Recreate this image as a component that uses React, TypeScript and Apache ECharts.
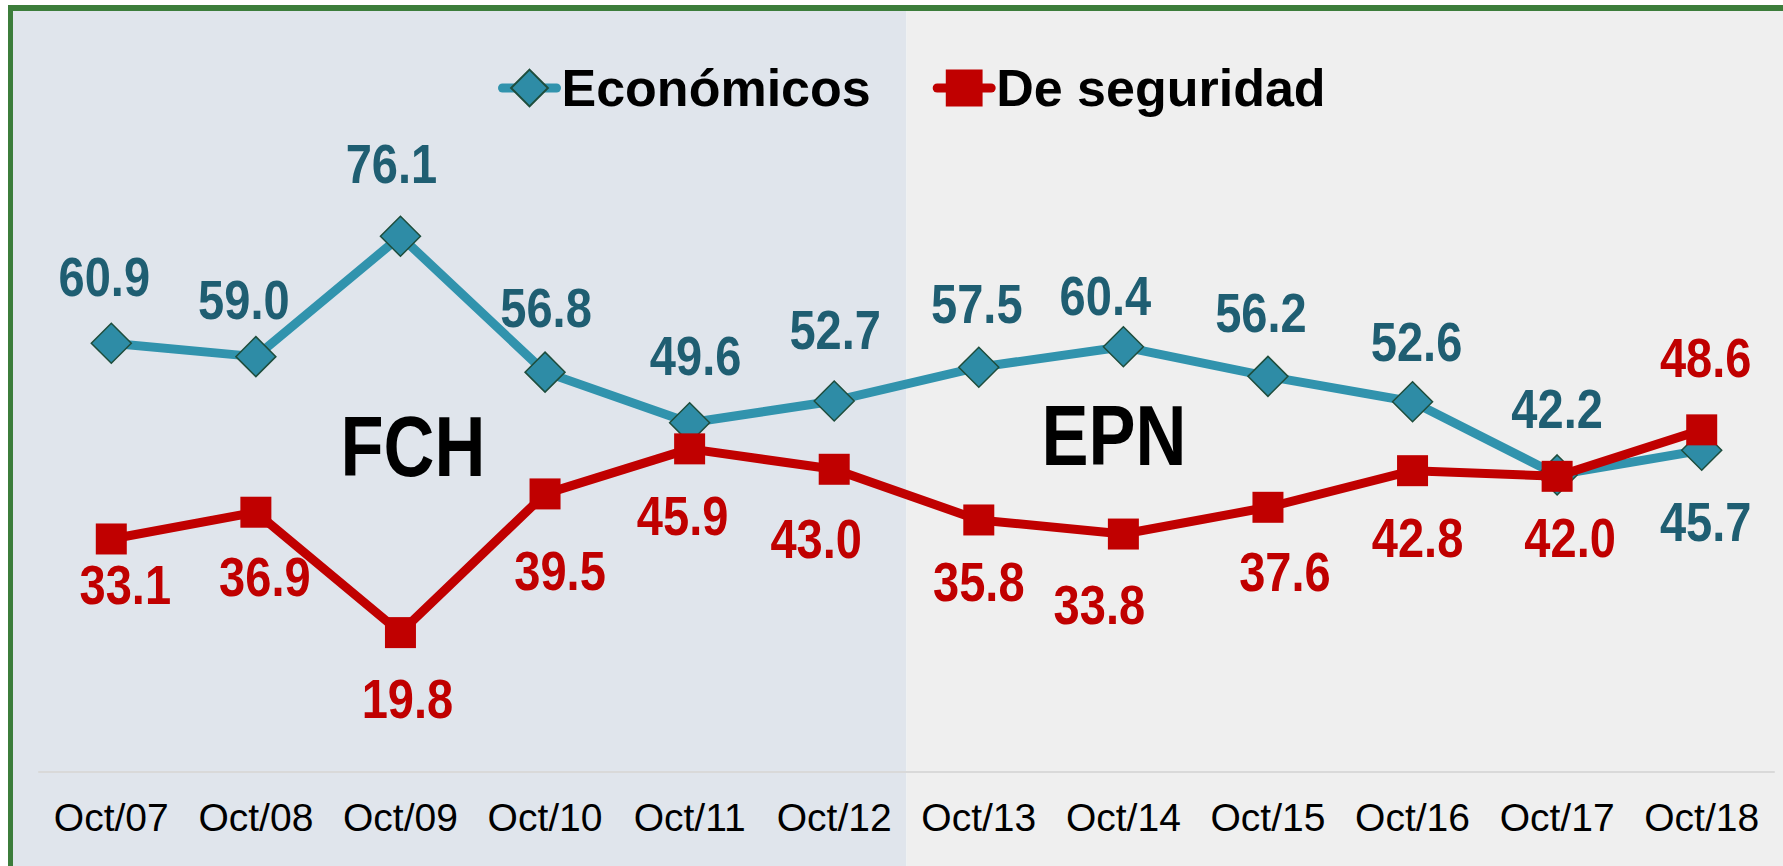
import React, { useEffect, useRef } from "react";
import * as echarts from "echarts";

const categories = ["Oct/07", "Oct/08", "Oct/09", "Oct/10", "Oct/11", "Oct/12", "Oct/13", "Oct/14", "Oct/15", "Oct/16", "Oct/17", "Oct/18"];
const economicos = [60.9, 59.0, 76.1, 56.8, 49.6, 52.7, 57.5, 60.4, 56.2, 52.6, 42.2, 45.7];
const seguridad = [33.1, 36.9, 19.8, 39.5, 45.9, 43.0, 35.8, 33.8, 37.6, 42.8, 42.0, 48.6];
const seriesNames = ["Económicos", "De seguridad"];
const periodNames = ["FCH", "EPN"];
const periodSplitAfter = "Oct/12";

// label placement tweaks (pixels, relative to each marker), as placed by hand in the original
const econLabelDx = [-7, -12, -9, 1, 6, 1, -2, -18, -7, 4, 0, 4];
const econLabelDy = [-67, -57, -73, -65, -67, -71, -64, -51, -64, -60, -66, 71];
const segLabelDx = [14, 9, 7, 15, -7, -18, 0, -24, 17, 5, 13, 4];
const segLabelDy = [46, 64, 66, 77, 67, 69, 62, 70, 64, 67, 61, -72];

const FONT = '"Liberation Sans", Arial, sans-serif';
const NARROW = 0.84;
const TEAL = "#3193AD";
const TEAL_FILL = "#2E8CA6";
const TEAL_TEXT = "#1F5E72";
const RED = "#C00000";

function labelSeries(name: string, values: number[], color: string, dx: number[], dy: number[]) {
  return {
    name,
    type: "custom",
    z: 10,
    silent: true,
    data: values.map((v, i) => [i, v]),
    encode: { x: 0, y: 1 },
    renderItem: (params: any, api: any) => {
      const idx = api.value(0);
      const val = api.value(1);
      const pt = api.coord([idx, val]);
      const i = params.dataIndex;
      return {
        type: "text",
        x: pt[0] + dx[i],
        y: pt[1] + dy[i],
        scaleX: NARROW,
        style: {
          text: Number(val).toFixed(1),
          font: `bold 56px ${FONT}`,
          fill: color,
          align: "center",
          verticalAlign: "middle",
        },
      };
    },
  };
}

export default function App() {
  const ref = useRef<HTMLDivElement>(null);
  useEffect(() => {
    if (!ref.current) return;
    const chart = echarts.init(ref.current, null, { renderer: "svg" });
    chart.setOption({
      animation: false,
      backgroundColor: "#FFFFFF",
      grid: { left: 39, right: 9, top: 68, bottom: 94, containLabel: false },
      legend: {
        data: seriesNames,
        left: 493,
        top: 57,
        itemWidth: 54,
        itemHeight: 46,
        itemGap: 62,
        lineStyle: { width: 9, cap: "round" },
        textStyle: { fontFamily: FONT, fontWeight: "bold", fontSize: 52, color: "#000" },
      },
      xAxis: {
        type: "category",
        data: categories,
        boundaryGap: true,
        z: 5,
        axisLine: { show: true, lineStyle: { color: "#D9D9D9", width: 2 } },
        axisTick: { show: false },
        axisLabel: { color: "#000", fontFamily: FONT, fontSize: 39, margin: 26, interval: 0 },
        splitLine: { show: false },
      },
      yAxis: {
        type: "value",
        min: 0,
        max: 100,
        show: false,
        splitLine: { show: false },
      },
      series: [
        {
          name: seriesNames[0],
          type: "line",
          data: economicos,
          symbol: "diamond",
          symbolSize: 40,
          z: 3,
          lineStyle: { color: TEAL, width: 9 },
          itemStyle: { color: TEAL_FILL, borderColor: "#1E4D3C", borderWidth: 1.5 },
        },
        {
          name: seriesNames[1],
          type: "line",
          data: seguridad,
          symbol: "rect",
          symbolSize: 31,
          z: 4,
          lineStyle: { color: RED, width: 9 },
          itemStyle: { color: RED },
        },
        labelSeries("econ-labels", economicos, TEAL_TEXT, econLabelDx, econLabelDy),
        labelSeries("seg-labels", seguridad, RED, segLabelDx, segLabelDy),
      ],
    });

    const xi = categories.indexOf(periodSplitAfter);
    const a = chart.convertToPixel({ xAxisIndex: 0 }, categories[xi]) as number;
    const b = chart.convertToPixel({ xAxisIndex: 0 }, categories[xi + 1]) as number;
    const split = (a + b) / 2;
    const W = 1783;
    const H = 866;
    const bigText = (text: string, x: number, y: number) => ({
      type: "text",
      z: 1,
      x,
      y,
      scaleX: 0.82,
      style: { text, font: `bold 86px ${FONT}`, fill: "#000", align: "center", verticalAlign: "middle" },
    });
    chart.setOption({
      graphic: [
        { type: "rect", z: -10, shape: { x: 0, y: 0, width: W, height: H }, style: { fill: "#FFFFFF" } },
        { type: "rect", z: -9, shape: { x: 13, y: 11, width: split - 13, height: H - 11 }, style: { fill: "#E0E5EC" } },
        { type: "rect", z: -9, shape: { x: split, y: 11, width: W - split, height: H - 11 }, style: { fill: "#EFEFEF" } },
        { type: "rect", z: -8, shape: { x: 8, y: 5, width: W - 8, height: 6 }, style: { fill: "#3C7D3B" } },
        { type: "rect", z: -8, shape: { x: 8, y: 5, width: 5, height: H - 5 }, style: { fill: "#3C7D3B" } },
        bigText(periodNames[0], 413, 446),
        bigText(periodNames[1], 1114, 435),
      ],
    });
    return () => chart.dispose();
  }, []);
  return (
    <div
      ref={ref}
      style={{ position: "absolute", left: 0, top: 0, width: 1783, height: 866 }}
    />
  );
}
